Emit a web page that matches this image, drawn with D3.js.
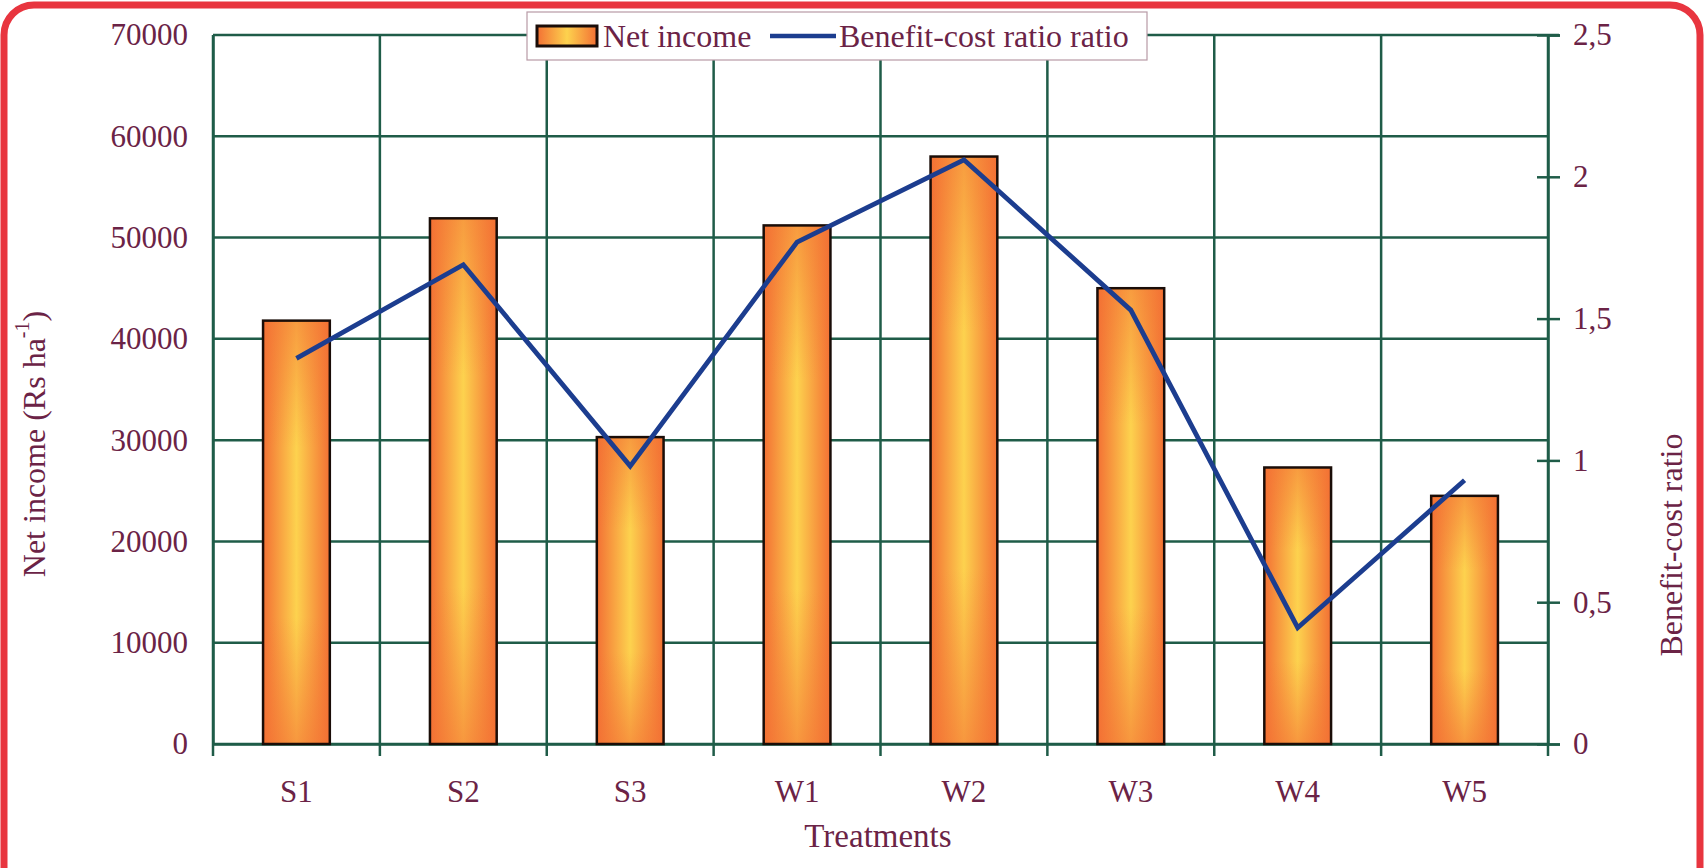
<!DOCTYPE html>
<html>
<head>
<meta charset="utf-8">
<script src="https://cdn.jsdelivr.net/npm/d3@7"></script>
<style>
  html, body { margin: 0; padding: 0; background: #ffffff; }
  svg { display: block; }
  text { font-family: "Liberation Serif", "Times New Roman", serif; fill: #6b2346; }
</style>
</head>
<body>
<svg id="chart" width="1704" height="868"></svg>
<script>
// ---- data ----
const categories = ["S1", "S2", "S3", "W1", "W2", "W3", "W4", "W5"];
const netIncome = [41800, 51900, 30300, 51200, 58000, 45000, 27300, 24500];
const bcRatio = [1.36, 1.69, 0.98, 1.77, 2.06, 1.53, 0.41, 0.93];
const leftTicks = [0, 10000, 20000, 30000, 40000, 50000, 60000, 70000];
const rightTicks = [0, 0.5, 1, 1.5, 2, 2.5];
const seriesNames = ["Net income", "Benefit-cost ratio ratio"];
const xTitle = "Treatments";
const yLeftTitle = "Net income (Rs ha";
const yRightTitle = "Benefit-cost ratio";

// ---- layout ----
const W = 1704, H = 868;
const plot = { left: 213, right: 1548, top: 35, bottom: 744 };
const gridColor = "#1f5c48";
const textColor = "#6b2346";
const lineColor = "#1c3d8f";

const svg = d3.select("#chart");

// gradients
const defs = svg.append("defs");
const hg = defs.append("linearGradient").attr("id", "barH").attr("x1", "0").attr("x2", "1").attr("y1", "0").attr("y2", "0");
hg.append("stop").attr("offset", "0%").attr("stop-color", "#f37034");
hg.append("stop").attr("offset", "50%").attr("stop-color", "#fdd24e");
hg.append("stop").attr("offset", "100%").attr("stop-color", "#f37034");
const vg = defs.append("linearGradient").attr("id", "barV").attr("x1", "0").attr("x2", "0").attr("y1", "0").attr("y2", "1");
vg.append("stop").attr("offset", "0%").attr("stop-color", "#f37034").attr("stop-opacity", 0.55);
vg.append("stop").attr("offset", "30%").attr("stop-color", "#f37034").attr("stop-opacity", 0);
vg.append("stop").attr("offset", "70%").attr("stop-color", "#f37034").attr("stop-opacity", 0);
vg.append("stop").attr("offset", "100%").attr("stop-color", "#f37034").attr("stop-opacity", 0.6);

// scales
const x = d3.scaleBand().domain(categories).range([plot.left, plot.right]).paddingInner(0).paddingOuter(0);
const yL = d3.scaleLinear().domain([0, 70000]).range([plot.bottom, plot.top]);
const yR = d3.scaleLinear().domain([0, 2.5]).range([plot.bottom, plot.top]);

// horizontal gridlines
svg.append("g").selectAll("line").data(leftTicks).join("line")
  .attr("x1", plot.left).attr("x2", plot.right)
  .attr("y1", d => yL(d)).attr("y2", d => yL(d))
  .attr("stroke", gridColor).attr("stroke-width", 2.5);

// vertical gridlines at band boundaries (with tick below axis)
const bounds = categories.map(c => x(c)).concat([plot.right]);
svg.append("g").selectAll("line").data(bounds).join("line")
  .attr("x1", d => d).attr("x2", d => d)
  .attr("y1", plot.top).attr("y2", plot.bottom + 12)
  .attr("stroke", gridColor).attr("stroke-width", 2.5);

// top gridline slight extension beyond right axis
svg.append("line").attr("x1", plot.right).attr("x2", plot.right + 11)
  .attr("y1", yL(70000)).attr("y2", yL(70000)).attr("stroke", gridColor).attr("stroke-width", 2.5);

// left axis labels
const leftAxis = d3.axisLeft(yL).tickValues(leftTicks).tickSize(0).tickPadding(25).tickFormat(d3.format("d"));
const gL = svg.append("g").attr("transform", `translate(${plot.left},0)`).call(leftAxis);
gL.select(".domain").attr("stroke", gridColor).attr("stroke-width", 2.5);
gL.selectAll("text").style("font-size", "31px").attr("fill", textColor).style("font-family", "'Liberation Serif', serif");

// right axis
const commaFmt = d => String(d).replace(".", ",");
const rightAxis = d3.axisRight(yR).tickValues(rightTicks).tickSize(12).tickPadding(13).tickFormat(commaFmt);
const gR = svg.append("g").attr("transform", `translate(${plot.right},0)`).call(rightAxis);
gR.select(".domain").attr("stroke", gridColor).attr("stroke-width", 2.5);
gR.selectAll(".tick line").attr("stroke", gridColor).attr("stroke-width", 2.5).attr("x1", -11);
gR.selectAll("text").style("font-size", "31px").attr("fill", textColor).style("font-family", "'Liberation Serif', serif");

// x axis labels
const xAxis = d3.axisBottom(x).tickSize(0).tickPadding(36);
const gX = svg.append("g").attr("transform", `translate(0,${plot.bottom})`).call(xAxis);
gX.select(".domain").attr("stroke", gridColor).attr("stroke-width", 2.5);
gX.selectAll("text").style("font-size", "31px").attr("fill", textColor).style("font-family", "'Liberation Serif', serif");

// bars
const barW = x.bandwidth() * 0.4;
const bars = svg.append("g");
bars.selectAll("rect.base").data(categories).join("rect").attr("class", "base")
  .attr("x", d => x(d) + (x.bandwidth() - barW) / 2)
  .attr("y", (d, i) => yL(netIncome[i]))
  .attr("width", barW)
  .attr("height", (d, i) => yL(0) - yL(netIncome[i]))
  .attr("fill", "url(#barH)");
bars.selectAll("rect.shade").data(categories).join("rect").attr("class", "shade")
  .attr("x", d => x(d) + (x.bandwidth() - barW) / 2)
  .attr("y", (d, i) => yL(netIncome[i]))
  .attr("width", barW)
  .attr("height", (d, i) => yL(0) - yL(netIncome[i]))
  .attr("fill", "url(#barV)")
  .attr("stroke", "#1a0d08").attr("stroke-width", 2.5);

// line
const line = d3.line().x((d, i) => x(categories[i]) + x.bandwidth() / 2).y(d => yR(d));
svg.append("path").datum(bcRatio).attr("d", line)
  .attr("fill", "none").attr("stroke", lineColor).attr("stroke-width", 4.8).attr("stroke-linejoin", "miter");

// axis titles
svg.append("text").attr("x", 878).attr("y", 847).attr("text-anchor", "middle")
  .style("font-size", "33px").text(xTitle);

const lt = svg.append("text").attr("transform", "translate(34,444) rotate(-90)")
  .attr("text-anchor", "middle").attr("dominant-baseline", "central").style("font-size", "32px");
lt.append("tspan").text(yLeftTitle);
lt.append("tspan").attr("dy", -12).style("font-size", "20px").text("-1");
lt.append("tspan").attr("dy", 12).text(")");

svg.append("text").attr("transform", "translate(1671,545) rotate(-90)")
  .attr("text-anchor", "middle").attr("dominant-baseline", "central")
  .style("font-size", "32px").text(yRightTitle);

// legend
const lg = svg.append("g");
lg.append("rect").attr("x", 527).attr("y", 12).attr("width", 620).attr("height", 48)
  .attr("fill", "#ffffff").attr("stroke", "#b89aa6").attr("stroke-width", 1.2);
lg.append("rect").attr("x", 537).attr("y", 26).attr("width", 60).attr("height", 20)
  .attr("fill", "url(#barH)").attr("stroke", "#1a0d08").attr("stroke-width", 3);
lg.append("text").attr("x", 603).attr("y", 47).style("font-size", "32px").text(seriesNames[0]);
lg.append("line").attr("x1", 770).attr("x2", 836).attr("y1", 36).attr("y2", 36)
  .attr("stroke", lineColor).attr("stroke-width", 4.5);
lg.append("text").attr("x", 839).attr("y", 47).style("font-size", "32px").text(seriesNames[1]);

// red rounded frame
svg.append("rect").attr("x", 4).attr("y", 5).attr("width", 1696).attr("height", 940).attr("rx", 30)
  .attr("fill", "none").attr("stroke", "#e8353f").attr("stroke-width", 7);
</script>
</body>
</html>
